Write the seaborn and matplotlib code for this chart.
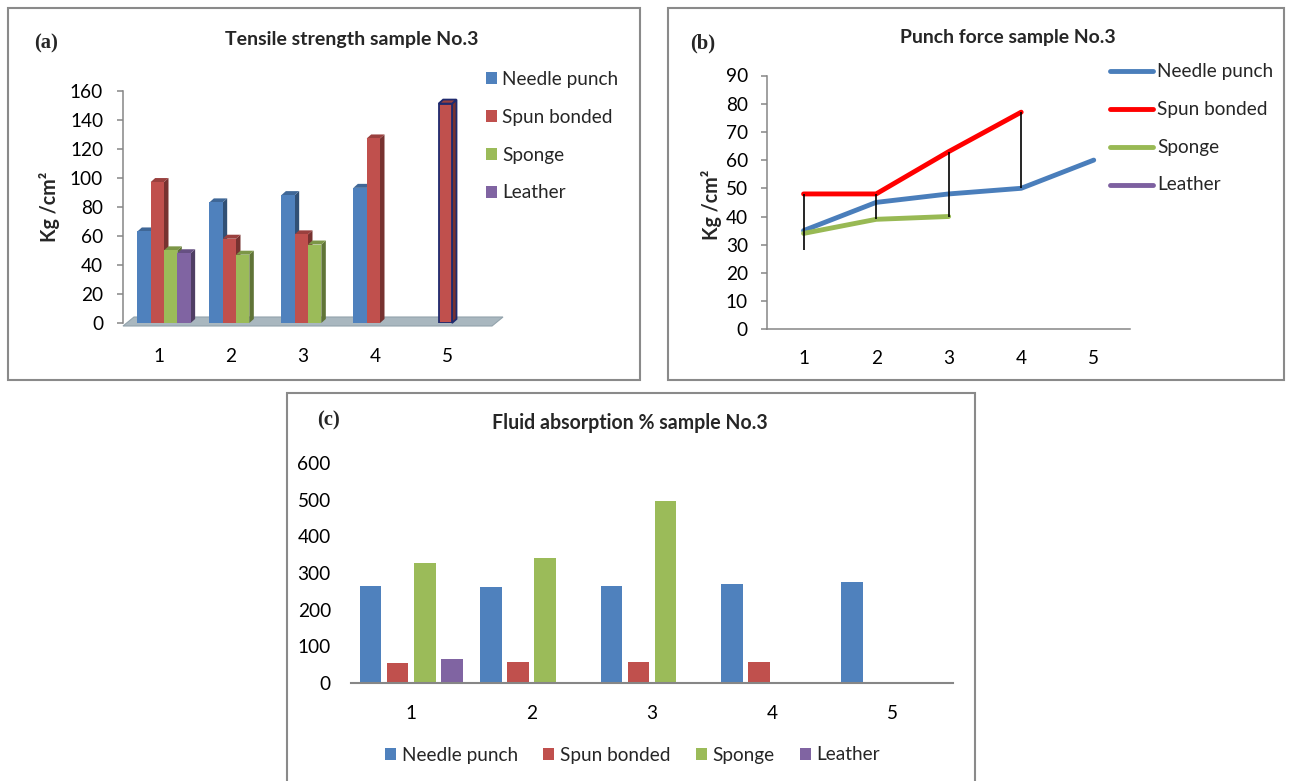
import numpy as np
import pandas as pd
import matplotlib
matplotlib.use("Agg")
import matplotlib.pyplot as plt
import seaborn as sns
from matplotlib.patches import Polygon, Rectangle
from matplotlib.transforms import IdentityTransform, ScaledTranslation
import matplotlib.colors as mcolors

nan = np.nan

# ---------------- data ----------------
categories = ["1", "2", "3", "4", "5"]
materials = ["Needle punch", "Spun bonded", "Sponge", "Leather"]

tensile_needle = [63, 83, 88, 93, nan]
tensile_spun = [97, 58, 61, 127, 151]
tensile_sponge = [50, 47, 54, nan, nan]
tensile_leather = [48, nan, nan, nan, nan]

punch_needle = [35, 45, 48, 50, 60]
punch_spun = [48, 48, 63, 77, nan]
punch_sponge = [34, 39, 40, nan, nan]
punch_leather = [28, nan, nan, nan, nan]

fluid_needle = [265, 262, 264, 269, 276]
fluid_spun = [55, 56, 56, 58, nan]
fluid_sponge = [328, 341, 497, nan, nan]
fluid_leather = [65, nan, nan, nan, nan]

title_a = "Tensile strength sample No.3"
title_b = "Punch force sample No.3"
title_c = "Fluid absorption % sample No.3"
ylabel_ab = "Kg /cm²"

bar_pal = {"Needle punch": "#4f81bd", "Spun bonded": "#c0504d",
           "Sponge": "#9bbb59", "Leather": "#8064a2"}
line_pal = {"Needle punch": "#4a7ebb", "Spun bonded": "#ff0000",
            "Sponge": "#98b954", "Leather": "#7d60a0"}


def long_df(series):
    rows = []
    for m, vals in zip(materials, series):
        for i, (c, v) in enumerate(zip(categories, vals)):
            rows.append({"Sample": c, "pos": i + 1, "Material": m, "Value": v})
    return pd.DataFrame(rows).dropna()


df_a = long_df([tensile_needle, tensile_spun, tensile_sponge, tensile_leather])
df_b = long_df([punch_needle, punch_spun, punch_sponge, punch_leather])
df_c = long_df([fluid_needle, fluid_spun, fluid_sponge, fluid_leather])

# ---------------- figure ----------------
W, H = 1289, 781
sns.set_theme(style="white")
plt.rcParams["font.family"] = ["Lato", "DejaVu Sans"]
fig = plt.figure(figsize=(W / 100, H / 100), dpi=100)
fig.patch.set_facecolor("white")
renderer = fig.canvas.get_renderer()


def fx(px):
    return px / W


def fy(py):
    return 1 - py / H


def axes_px(left, top, right, bottom):
    return fig.add_axes([fx(left), fy(bottom), (right - left) / W, (bottom - top) / H])


def measure(s, fs, **kw):
    t = fig.text(0, 0, s, fontsize=fs, **kw)
    bb = t.get_window_extent(renderer)
    t.remove()
    return bb.width, bb.height


def fit(s, target, **kw):
    w, _ = measure(s, 20, **kw)
    return 20 * target / w


base = fit("Needle punch", 117)
base_px = base * 100 / 72
_, text_h = measure("Needle punch", base)
tfs_a = fit(title_a, 252, weight="bold")
tfs_b = fit(title_b, 216, weight="bold")
tfs_c = fit(title_c, 275, weight="bold")
yl_fs = fit(ylabel_ab, 70, weight="bold")
serif = ["Liberation Serif", "DejaVu Serif"]
lab_fs = fit("(a)", 24, family=serif, weight="bold")

AXC = "#868686"
PT = 72 / 100  # points per pixel

# panel borders
for (l, t, r, b) in [(8, 8, 640, 380), (668, 8, 1284, 380), (287, 393, 975, 800)]:
    fig.add_artist(Rectangle((fx(l), fy(b)), (r - l) / W, (b - t) / H,
                             transform=fig.transFigure, fill=False,
                             ec="#8a8a8a", lw=1.5))

# titles and panel letters
fig.text(fx(352), fy(40), title_a, ha="center", va="center", fontsize=tfs_a, weight="bold")
fig.text(fx(1008), fy(38), title_b, ha="center", va="center", fontsize=tfs_b, weight="bold")
fig.text(fx(630), fy(423), title_c, ha="center", va="center", fontsize=tfs_c, weight="bold")
fig.text(fx(46), fy(43), "(a)", ha="center", va="center", fontsize=lab_fs, family=serif, weight="bold")
fig.text(fx(703), fy(43), "(b)", ha="center", va="center", fontsize=lab_fs, family=serif, weight="bold")
fig.text(fx(328), fy(420), "(c)", ha="center", va="center", fontsize=lab_fs, family=serif, weight="bold")
fig.text(fx(50), fy(207), ylabel_ab, ha="center", va="center", rotation=90, fontsize=yl_fs, weight="bold")
fig.text(fx(711), fy(205), ylabel_ab, ha="center", va="center", rotation=90, fontsize=yl_fs, weight="bold")


def make_legend(ax, handles, labels, x_left, y_center, pitch, hl_px, hh_px, pad_px,
                ncol=1, colspace_px=0, center=False):
    row_h = max(text_h, hh_px)
    kw = dict(frameon=False, fontsize=base, borderpad=0, borderaxespad=0,
              handlelength=hl_px / base_px, handleheight=hh_px / base_px,
              handletextpad=pad_px / base_px, ncol=ncol,
              columnspacing=colspace_px / base_px,
              labelspacing=(pitch - row_h) / base_px if ncol == 1 else 0.5,
              bbox_transform=fig.transFigure)
    if center:
        leg = ax.legend(handles, labels, loc="center left",
                        bbox_to_anchor=(fx(x_left), fy(y_center)), **kw)
    else:
        leg = ax.legend(handles, labels, loc="upper left",
                        bbox_to_anchor=(fx(x_left), fy(y_center - row_h / 2)), **kw)
    return leg


def pull_legend(ax):
    leg = ax.get_legend()
    handles = list(leg.legend_handles)
    labels = [t.get_text() for t in leg.get_texts()]
    leg.remove()
    return handles, labels


def shade(c, f):
    r, g, b = mcolors.to_rgb(c)
    return (r * f, g * f, b * f)


# ---------------- (a) tensile strength, 3-D style columns ----------------
axa = axes_px(128, 90.5, 488, 323)
sns.barplot(data=df_a, x="Sample", y="Value", hue="Material", order=categories,
            hue_order=materials, palette=bar_pal, width=0.74, saturation=1,
            errorbar=None, ax=axa, linewidth=0)
ha_, la_ = pull_legend(axa)
axa.set_xlim(-0.5, 4.5)
axa.set_ylim(0, 160)
axa.set_yticks(range(0, 161, 20))
axa.set_xlabel("")
axa.set_ylabel("")
for s in ["top", "right", "bottom"]:
    axa.spines[s].set_visible(False)
axa.spines["left"].set_color(AXC)
axa.spines["left"].set_linewidth(1.1)
axa.spines["left"].set_position(("outward", 5 * PT))
axa.tick_params(axis="y", left=True, direction="out", length=6 * PT, width=1.1,
                color=AXC, pad=10, labelsize=base, labelcolor="black")
axa.tick_params(axis="x", bottom=False, length=0, pad=18, labelsize=base, labelcolor="black")
for lbl in axa.get_xticklabels():
    lbl.set_transform(lbl.get_transform() + ScaledTranslation(-5 / 100, 0, fig.dpi_scale_trans))
axa.patch.set_alpha(0)

# floor slab (display coords)
X0, Y0 = axa.transData.transform((-0.5, 0))
X1, _ = axa.transData.transform((4.5, 0))
X0 -= 5
floor = Polygon([(X0, Y0 - 3), (X1 + 4, Y0 - 3), (X1 + 15, Y0 + 6), (X0 + 11, Y0 + 6)],
                closed=True, transform=IdentityTransform(), fc="#a9b7bf", ec="#93a3ac",
                lw=0.8, zorder=0.5, clip_on=False)
axa.add_patch(floor)

bars_a = [p for p in axa.patches if isinstance(p, Rectangle) and np.isfinite(p.get_height())
          and p.get_height() > 0]
tallest = max(bars_a, key=lambda p: p.get_height())
dx, dy = 4.5, 4.0
for p in bars_a:
    p.set_zorder(1.0)
    xa, ya = axa.transData.transform((p.get_x(), p.get_y()))
    xb, yb = axa.transData.transform((p.get_x() + p.get_width(), p.get_y() + p.get_height()))
    fc = p.get_facecolor()
    edge = "#1f2a6e" if p is tallest else "none"
    lw = 1.3 if p is tallest else 0
    side = Polygon([(xb, ya), (xb + dx, ya + dy), (xb + dx, yb + dy), (xb, yb)], closed=True,
                   transform=IdentityTransform(), fc=shade(fc, 0.62), ec=edge, lw=lw,
                   zorder=0.8, clip_on=False)
    top = Polygon([(xa, yb), (xa + dx, yb + dy), (xb + dx, yb + dy), (xb, yb)], closed=True,
                  transform=IdentityTransform(), fc=shade(fc, 0.8), ec=edge, lw=lw,
                  zorder=0.9, clip_on=False)
    axa.add_patch(side)
    axa.add_patch(top)
    if p is tallest:
        p.set_edgecolor(edge)
        p.set_linewidth(lw)

make_legend(axa, ha_, la_, 486, 79, 38, 11, 11, 5)

# ---------------- (b) punch force lines ----------------
axb = axes_px(767.3, 75.5, 1130, 329.3)
sns.lineplot(data=df_b, x="pos", y="Value", hue="Material", hue_order=materials,
             palette=line_pal, linewidth=3.5, sort=False, errorbar=None, ax=axb,
             solid_capstyle="round", solid_joinstyle="round")
hb, lb = pull_legend(axb)
for h in hb:
    h.set_linewidth(3.5)
    h.set_solid_capstyle("round")
# high-low lines between series
stack = np.array([punch_needle, punch_spun, punch_sponge, punch_leather], dtype=float)
pos = np.arange(1, len(categories) + 1)
lo = np.nanmin(stack, axis=0)
hi = np.nanmax(stack, axis=0)
keep = hi > lo
axb.vlines(pos[keep], lo[keep], hi[keep], colors="black", linewidth=1.2, zorder=3)
axb.set_xlim(0.5, 5.5)
axb.set_ylim(0, 90)
axb.set_yticks(range(0, 91, 10))
axb.set_xticks(pos)
axb.set_xticklabels(categories)
axb.set_xlabel("")
axb.set_ylabel("")
for s in ["top", "right"]:
    axb.spines[s].set_visible(False)
for s in ["left", "bottom"]:
    axb.spines[s].set_color(AXC)
    axb.spines[s].set_linewidth(1.1)
axb.tick_params(axis="y", left=True, direction="out", length=5.6 * PT, width=1.1,
                color=AXC, pad=10, labelsize=base, labelcolor="black")
axb.tick_params(axis="x", bottom=False, length=0, pad=15, labelsize=base, labelcolor="black")
axb.patch.set_alpha(0)
make_legend(axb, hb, lb, 1110, 71, 38, 43, 5, 4)

# ---------------- (c) fluid absorption columns ----------------
axc = axes_px(351, 463, 953, 683)
sns.barplot(data=df_c, x="Sample", y="Value", hue="Material", order=categories,
            hue_order=materials, palette=bar_pal, width=0.9, gap=0.2, saturation=1,
            errorbar=None, ax=axc, linewidth=0)
hc, lc = pull_legend(axc)
axc.set_xlim(-0.5, 4.5)
axc.set_ylim(0, 600)
axc.set_yticks(range(0, 601, 100))
axc.set_xlabel("")
axc.set_ylabel("")
for s in ["top", "right", "left"]:
    axc.spines[s].set_visible(False)
axc.spines["bottom"].set_color(AXC)
axc.spines["bottom"].set_linewidth(1.5)
axc.tick_params(axis="y", left=False, length=0, pad=14.5, labelsize=base, labelcolor="black")
axc.tick_params(axis="x", bottom=False, length=0, pad=16, labelsize=base, labelcolor="black")
axc.patch.set_alpha(0)
make_legend(axc, hc, lc, 385, 755, 38, 11, 11, 6, ncol=4, colspace_px=25, center=True)

fig.savefig("out.png", dpi=100, facecolor="white")
